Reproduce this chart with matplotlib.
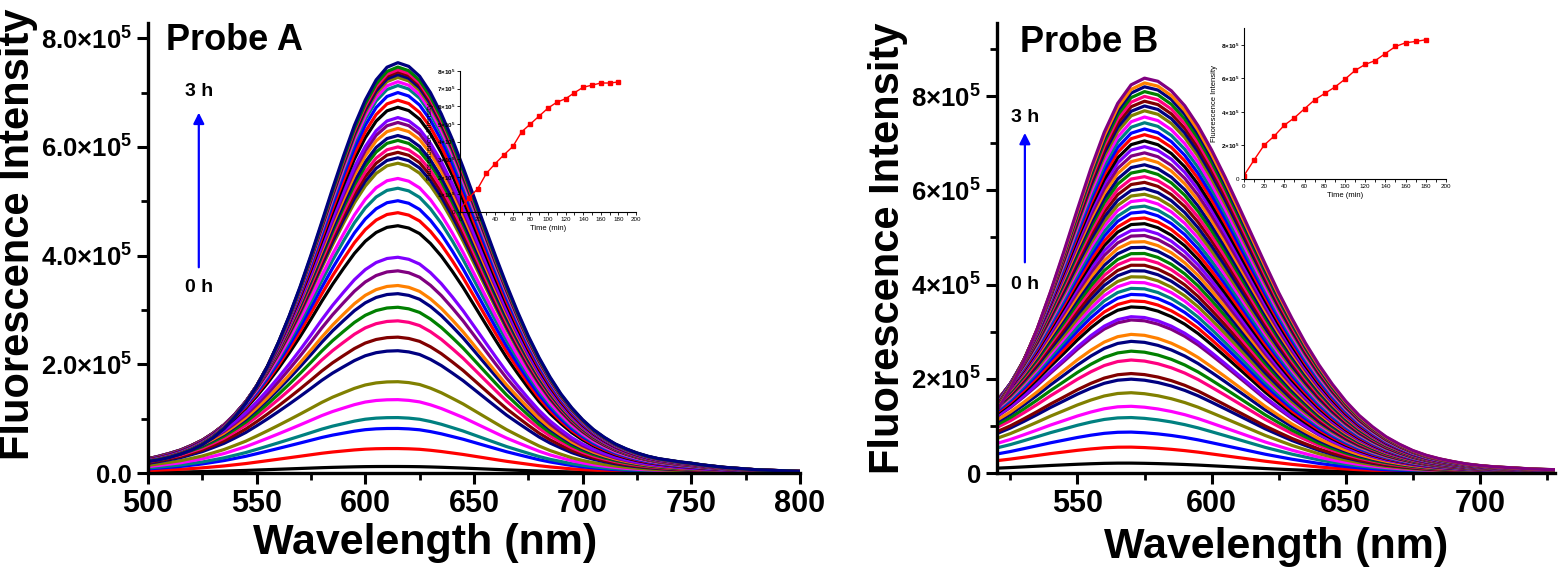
import numpy as np
import matplotlib
matplotlib.use("Agg")
import matplotlib.pyplot as plt
from matplotlib import font_manager
from matplotlib.ticker import MultipleLocator, FixedLocator

# ---- data (intensities in units of 1e5) ----
# normalised emission profiles, Probe A, 500-800 nm every 5 nm
profile_a_high = [0.028, 0.032, 0.038, 0.046, 0.056, 0.069, 0.086, 0.108, 0.136, 0.170,
                  0.211, 0.260, 0.318, 0.383, 0.454, 0.531, 0.612, 0.694, 0.773, 0.847,
                  0.909, 0.958, 0.989, 1.0,
                  0.991, 0.967, 0.927, 0.875, 0.814, 0.745, 0.673, 0.600, 0.528, 0.459,
                  0.394, 0.334, 0.281, 0.234, 0.193, 0.159, 0.130, 0.106, 0.087, 0.071,
                  0.059, 0.049, 0.041, 0.035, 0.031, 0.027, 0.024, 0.020, 0.017, 0.014,
                  0.012, 0.010, 0.008, 0.007, 0.006, 0.005, 0.004]
profile_a_low = [0.10, 0.12, 0.14, 0.16, 0.19, 0.22, 0.26, 0.30, 0.35, 0.40,
                 0.46, 0.52, 0.58, 0.64, 0.70, 0.76, 0.82, 0.87, 0.91, 0.95,
                 0.98, 0.995, 1.0, 1.0,
                 0.99, 0.97, 0.93, 0.88, 0.82, 0.76, 0.69, 0.62, 0.55, 0.48,
                 0.42, 0.36, 0.30, 0.25, 0.21, 0.17, 0.14, 0.115, 0.095, 0.078,
                 0.064, 0.053, 0.044, 0.037, 0.031, 0.026, 0.022, 0.019, 0.016, 0.014,
                 0.012, 0.010, 0.009, 0.008, 0.007, 0.006, 0.005]
# Probe B, 520-730 nm every 5 nm
profile_b_high = [0.158, 0.214, 0.283, 0.365, 0.460, 0.562, 0.668, 0.771, 0.863, 0.936,
                  0.983, 1.0, 0.992, 0.968, 0.930, 0.879, 0.818, 0.750, 0.677, 0.603,
                  0.529, 0.457, 0.391, 0.329, 0.274, 0.225, 0.182, 0.146, 0.117, 0.092,
                  0.073, 0.057, 0.045, 0.036, 0.029, 0.023, 0.019, 0.016, 0.014, 0.012,
                  0.010, 0.009, 0.008]
profile_b_low = [0.50, 0.56, 0.63, 0.70, 0.77, 0.83, 0.89, 0.94, 0.98, 1.0,
                 1.0, 0.98, 0.95, 0.91, 0.86, 0.80, 0.73, 0.66, 0.59, 0.52,
                 0.45, 0.39, 0.33, 0.28, 0.23, 0.19, 0.155, 0.125, 0.10, 0.08,
                 0.065, 0.052, 0.042, 0.034, 0.028, 0.023, 0.019, 0.016, 0.014, 0.012,
                 0.010, 0.009, 0.008]

# peak intensity of every recorded spectrum (0 h -> 3 h)
peaks_a = [0.12, 0.45, 0.82, 1.02, 1.35, 1.68, 2.25, 2.5, 2.8, 3.05, 3.3, 3.45, 3.72,
           3.97, 4.55, 4.79, 5.01, 5.24, 5.42, 5.7, 5.8, 5.9, 6.0, 6.12, 6.21, 6.34,
           6.45, 6.54, 6.73, 6.86, 7.0, 7.13, 7.2, 7.28, 7.33, 7.38, 7.42, 7.47, 7.55]
peaks_b = [0.21, 0.55, 0.87, 1.18, 1.42, 1.71, 2.0, 2.12, 2.41, 2.6, 2.81, 2.96, 3.27,
           3.34, 3.55, 3.68, 3.82, 3.95, 4.08, 4.2, 4.33, 4.45, 4.58, 4.7, 4.83, 4.95,
           5.08, 5.2, 5.33, 5.45, 5.58, 5.7, 5.83, 5.95, 6.07, 6.2, 6.32, 6.45, 6.57,
           6.7, 6.82, 6.95, 7.07, 7.2, 7.32, 7.45, 7.57, 7.7, 7.8, 7.9, 8.0, 8.1, 8.2,
           8.28, 8.38]

# insets: intensity vs time
time_min = [0, 10, 20, 30, 40, 50, 60, 70, 80, 90, 100, 110, 120, 130, 140, 150, 160, 170, 180]
inset_a = [0.13, 0.79, 1.32, 2.2, 2.75, 3.25, 3.72, 4.55, 5.0, 5.45, 5.9, 6.23, 6.43,
           6.77, 7.08, 7.2, 7.32, 7.32, 7.38]
inset_b = [0.2, 1.13, 2.02, 2.56, 3.21, 3.65, 4.19, 4.72, 5.1, 5.48, 5.95, 6.47, 6.83,
           7.06, 7.48, 7.9, 8.12, 8.2, 8.3]

origin_colors = ['#000000', '#FF0000', '#0000FF', '#008080', '#FF00FF', '#808000',
                 '#000080', '#800000', '#FF0080', '#008000', '#00007F', '#FF8000',
                 '#800080', '#8000FF']

names = {f.name for f in font_manager.fontManager.ttflist}
narrow = 'Liberation Sans Narrow' if 'Liberation Sans Narrow' in names else 'Liberation Sans'

plt.rcParams['font.family'] = ['Liberation Sans', 'DejaVu Sans']
plt.rcParams['font.weight'] = 'bold'
plt.rcParams['mathtext.fontset'] = 'custom'
plt.rcParams['mathtext.rm'] = 'Liberation Sans:bold'
plt.rcParams['mathtext.bf'] = 'Liberation Sans:bold'
plt.rcParams['mathtext.default'] = 'bf'

fig = plt.figure(figsize=(15.59, 5.71), dpi=100)


def draw_panel(rect, wl, low, high, peaks, xlim, ylim, yticks, ylabels, title, arrow):
    ax = fig.add_axes(rect)
    low = np.array(low)
    high = np.array(high)
    pmax = max(peaks)
    for i, p in enumerate(peaks):
        t = p / pmax
        spec = p * ((1 - t) * low + t * high) * 1e5
        ax.plot(wl, spec, color=origin_colors[i % len(origin_colors)], lw=2.3)
    ax.set_xlim(*xlim)
    ax.set_ylim(*ylim)
    for s in ['top', 'right']:
        ax.spines[s].set_visible(False)
    for s in ['left', 'bottom']:
        ax.spines[s].set_linewidth(2.4)
    ax.xaxis.set_major_locator(MultipleLocator(50))
    ax.xaxis.set_minor_locator(MultipleLocator(25))
    ax.yaxis.set_major_locator(FixedLocator(yticks))
    ax.yaxis.set_minor_locator(MultipleLocator(1e5))
    ax.set_yticklabels(ylabels)
    ax.tick_params(which='major', direction='out', length=8, width=2.2)
    ax.tick_params(which='minor', direction='out', length=5, width=2.0)
    for lab in ax.get_xticklabels():
        lab.set_fontfamily(narrow)
        lab.set_fontsize(22)
        lab.set_fontweight('bold')
    for lab in ax.get_yticklabels():
        lab.set_fontsize(18.5)
    ax.set_xlabel('Wavelength (nm)', fontsize=31, fontweight='bold', labelpad=6)
    ax.set_ylabel('Fluorescence Intensity', fontsize=30, fontweight='bold')
    ax.text(title[1], title[2], title[0], transform=ax.transAxes, fontsize=26,
            fontweight='bold', va='top', ha='left')
    ax_x, y0, y1, t3, t0 = arrow
    ax.annotate('', xy=(ax_x, y1), xytext=(ax_x, y0), xycoords='axes fraction',
                arrowprops=dict(arrowstyle='-|>', color='#0000FF', lw=1.6, mutation_scale=16))
    ax.text(ax_x, t3, '3 h', transform=ax.transAxes, fontsize=14, fontweight='bold',
            ha='center', va='center')
    ax.text(ax_x, t0, '0 h', transform=ax.transAxes, fontsize=14, fontweight='bold',
            ha='center', va='center')
    return ax


def draw_inset(rect, y, yticks, ylabels, ylim):
    ins = fig.add_axes(rect)
    ins.patch.set_alpha(0.0)
    ins.plot(time_min, np.array(y) * 1e5, color='#FF0000', lw=1.0, marker='s', ms=3)
    ins.set_xlim(0, 200)
    ins.set_ylim(*ylim)
    ins.xaxis.set_major_locator(MultipleLocator(20))
    ins.xaxis.set_minor_locator(MultipleLocator(10))
    ins.yaxis.set_major_locator(FixedLocator(yticks))
    ins.set_yticklabels(ylabels)
    for s in ['top', 'right']:
        ins.spines[s].set_visible(False)
    for s in ['left', 'bottom']:
        ins.spines[s].set_linewidth(0.8)
    ins.tick_params(which='both', labelsize=4.5, length=2, width=0.6, pad=1.5)
    ins.set_xlabel('Time (min)', fontsize=5.5, fontweight='normal', labelpad=2)
    ins.set_ylabel('Fluorescence Intensity', fontsize=5.5, fontweight='normal', labelpad=2)
    for lab in ins.get_xticklabels() + ins.get_yticklabels():
        lab.set_fontweight('normal')
    return ins


wl_a = np.linspace(500, 800, len(profile_a_high))
wl_b = np.linspace(520, 730, len(profile_b_high))

ax_a = draw_panel([0.0949, 0.1716, 0.4182, 0.7881], wl_a, profile_a_low, profile_a_high,
                  peaks_a, (500, 800), (0, 8.28e5), [0, 2e5, 4e5, 6e5, 8e5],
                  ['0.0', r'$2.0{\times}10^{5}$', r'$4.0{\times}10^{5}$',
                   r'$6.0{\times}10^{5}$', r'$8.0{\times}10^{5}$'],
                  ('Probe A', 0.028, 1.0), (0.078, 0.451, 0.807, 0.847, 0.413))
ax_a.yaxis.set_label_coords(-0.168, 0.53)
ax_a.xaxis.set_label_coords(0.425, -0.112)

ax_b = draw_panel([0.6395, 0.1716, 0.3579, 0.7881], wl_b, profile_b_low, profile_b_high,
                  peaks_b, (520, 728), (0, 9.55e5), [0, 2e5, 4e5, 6e5, 8e5],
                  ['0', r'$2{\times}10^{5}$', r'$4{\times}10^{5}$',
                   r'$6{\times}10^{5}$', r'$8{\times}10^{5}$'],
                  ('Probe B', 0.041, 0.996), (0.05, 0.462, 0.762, 0.791, 0.418))
ax_b.yaxis.set_label_coords(-0.16, 0.5)

draw_inset([0.2951, 0.6287, 0.1129, 0.2469], inset_a,
           [i * 1e5 for i in range(9)],
           ['0'] + [r'$%d{\times}10^{5}$' % i for i in range(1, 9)], (0, 8e5))
draw_inset([0.7979, 0.6865, 0.1296, 0.2644], inset_b,
           [0, 2e5, 4e5, 6e5, 8e5],
           ['0'] + [r'$%d{\times}10^{5}$' % i for i in (2, 4, 6, 8)], (0, 9e5))

fig.savefig('out.png', dpi=100)
